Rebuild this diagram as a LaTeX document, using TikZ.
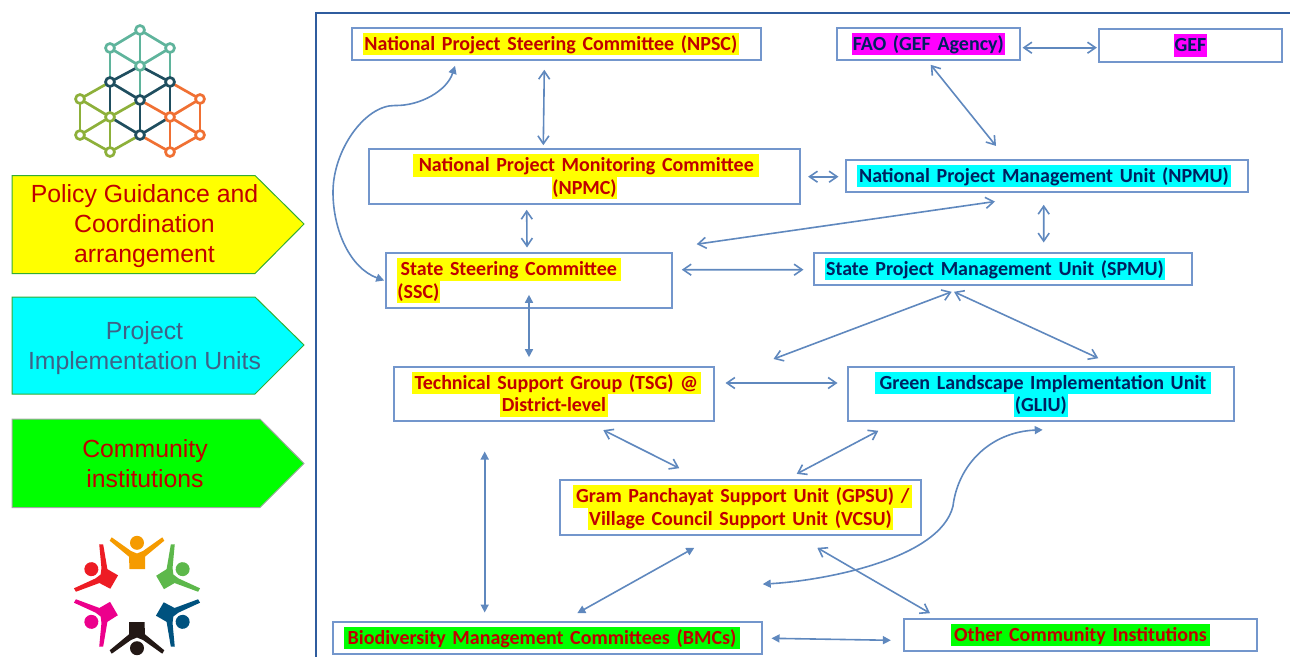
\documentclass[tikz,border=0pt]{standalone}
\usepackage{fontspec}
\setmainfont{Carlito}
\newfontfamily\arrowfont{Liberation Sans}
\usetikzlibrary{arrows.meta}
\newdimen\px \px=0.75pt
\definecolor{boxblue}{HTML}{7396CC}
\definecolor{linkblue}{HTML}{5F88BE}
\definecolor{framebl}{HTML}{2F5C9E}
\definecolor{hlyellow}{HTML}{FFFF00}
\definecolor{hlcyan}{HTML}{00FFFF}
\definecolor{hlmag}{HTML}{FF00FF}
\definecolor{hlgreen}{HTML}{00FF00}
\definecolor{txtred}{HTML}{C00000}
\definecolor{txtnavy}{HTML}{002060}
\definecolor{grey1}{HTML}{3E6287}
\definecolor{logoteal}{HTML}{5FB49C}
\definecolor{logodark}{HTML}{1F4E5F}
\definecolor{logolime}{HTML}{8DB03A}
\definecolor{logoorange}{HTML}{F07033}
% one highlighted line: left offset, width, highlight colour, text
\newcommand{\hlline}[4]{\hspace*{#1\px}{\fboxsep=0pt\colorbox{#3}{\makebox[#2\px][c]{\rule[-5\px]{0pt}{22.5\px}#4}}}}
\tikzset{
  unitbox/.style={draw=boxblue,line width=1.2pt,inner sep=0pt,align=left,text width=#1*0.75pt,
    font=\fontsize{15pt}{16.875pt}\selectfont\bfseries},
  rednode/.style={text=txtred},
  navynode/.style={text=txtnavy},
  open/.style={draw=linkblue,line width=1.2pt,{Straight Barb[length=6pt,width=8.25pt]}-{Straight Barb[length=6pt,width=8.25pt]}},
  solid2/.style={draw=linkblue,line width=1.2pt,{Triangle[length=6pt,width=6pt]}-{Triangle[length=6pt,width=6pt]}},
  sidelabel/.style={font=\fontsize{18.6pt}{22.5pt}\selectfont\arrowfont,align=center,inner sep=0pt},
  logoline/.style={line width=2pt,line cap=round},
  logodot/.style={draw,fill=white,line width=2pt},
}
\begin{document}
\begin{tikzpicture}[x=0.75pt,y=-0.75pt]
\useasboundingbox (0,0) rectangle (1290,657);
% outer frame
\draw[framebl,line width=2.2pt] (1290,13) -- (316,13) -- (316,657);

% side arrows
\draw[fill=hlyellow,draw=black!20!green!60!gray,line width=.75pt] (12,175.5) -- (255,175.5) -- (304,224) -- (255,273.5) -- (12,273.5) -- cycle;
\node[sidelabel,text=txtred] (lab1) at (144.5,226) {Policy Guidance and\\Coordination\\arrangement};
\draw[fill=hlcyan,draw=black!20!green!60!gray,line width=.75pt] (12,297) -- (255,297) -- (304,345) -- (255,394) -- (12,394) -- cycle;
\node[sidelabel,text=grey1] (lab2) at (144.5,348.5) {Project\\Implementation Units};
\draw[fill=hlgreen,draw=gray!70,line width=.75pt] (12,419) -- (260,419) -- (304,463.5) -- (260,507.5) -- (12,507.5) -- cycle;
\node[sidelabel,text=txtred] (lab3) at (145,464) {Community\\institutions};

% network logo
\foreach \xa/\ya/\xb/\yb in {140/30/110/48,140/30/170/48,110/48/140/66,170/48/140/66,140/30/140/100,110/48/110/82,170/48/170/82}
  \draw[logoline,draw=logoteal] (\xa,\ya) -- (\xb,\yb);
\foreach \xa/\ya/\xb/\yb in {80/99/110/82,80/99/80/135,80/99/110/117,110/117/140/100,80/135/110/117,110/117/110/152,80/135/110/152,110/152/140/135}
  \draw[logoline,draw=logolime] (\xa,\ya) -- (\xb,\yb);
\foreach \xa/\ya/\xb/\yb in {170/82/200/99,200/99/200/135,200/99/170/117,170/117/140/100,200/135/170/117,170/117/170/152,200/135/170/152,170/152/140/135}
  \draw[logoline,draw=logoorange] (\xa,\ya) -- (\xb,\yb);
\foreach \xa/\ya/\xb/\yb in {140/66/110/82,140/66/170/82,110/82/140/100,170/82/140/100,110/82/110/117,170/82/170/117,140/100/140/135,110/117/140/135,170/117/140/135}
  \draw[logoline,draw=logodark] (\xa,\ya) -- (\xb,\yb);
\foreach \xa/\ya in {140/30,110/48,170/48,140/66}
  \draw[logodot,draw=logoteal] (\xa,\ya) circle (4.5);
\foreach \xa/\ya in {110/82,170/82,140/100,140/135}
  \draw[logodot,draw=logodark] (\xa,\ya) circle (4.5);
\foreach \xa/\ya in {80/99,80/135,110/117,110/152}
  \draw[logodot,draw=logolime] (\xa,\ya) circle (4.5);
\foreach \xa/\ya in {200/99,200/135,170/117,170/152}
  \draw[logodot,draw=logoorange] (\xa,\ya) circle (4.5);

% people logo
\foreach \ang/\col in {0/F59B00,-60/5DB84B,-120/00527F,180/231815,120/EC008C,60/ED1C24}{
  \definecolor{figcol}{HTML}{\col}
  \begin{scope}[shift={(137,595.5)},rotate=\ang]
    \fill[figcol] (-7.5,-26.5) -- (8,-26.5) -- (8,-38.8) -- (27.3,-54.8) -- (25.3,-58.2) -- (6,-44.5) -- (0,-42) -- (-6,-44.5) -- (-25.3,-58.2) -- (-27.3,-54.8) -- (-8,-38.8) -- cycle;
    \fill[figcol] (0,-52.7) circle (7);
  \end{scope}
}

% boxes
\node[unitbox=409,rednode,minimum height=24pt] (npsc) at (556.5,44) {\hlline{10.7}{376.3}{hlyellow}{National Project Steering Committee (NPSC)}};
\node[unitbox=431,rednode,minimum height=41.25pt] (npmc) at (584.5,176.5) {\hlline{44.3}{346}{hlyellow}{National Project Monitoring Committee}\\\hlline{182.7}{65.6}{hlyellow}{(NPMC)}};
\node[unitbox=286,rednode,minimum height=41.25pt] (ssc) at (529,280.5) {\hlline{10.7}{224.3}{hlyellow}{State Steering Committee}\\\hlline{10.7}{43.3}{hlyellow}{(SSC)}};
\node[unitbox=320,rednode,minimum height=40.5pt] (tsg) at (554,394) {\hlline{17.7}{289.3}{hlyellow}{Technical Support Group (TSG) @}\\\hlline{106}{108}{hlyellow}{District-level}};
\node[unitbox=361,rednode,minimum height=41.25pt] (gpsu) at (740.5,507.5) {\hlline{13.3}{339}{hlyellow}{Gram Panchayat Support Unit (GPSU) /}\\\hlline{27.7}{305.6}{hlyellow}{Village Council Support Unit (VCSU)}};
\node[unitbox=429,rednode,minimum height=24pt] (bmc) at (547.5,638) {\hlline{11}{396}{hlgreen}{Biodiversity Management Committees (BMCs)}};
\node[unitbox=353,rednode,minimum height=24pt] (oci) at (1080.5,635) {\hlline{47}{259}{hlgreen}{Other Community Institutions}};
\node[unitbox=183,navynode,minimum height=24pt] (fao) at (928.5,44) {\hlline{14.7}{153.3}{hlmag}{FAO (GEF Agency)}};
\node[unitbox=183,navynode,minimum height=24.75pt] (gef) at (1190.5,45.5) {\hlline{75.3}{32.4}{hlmag}{GEF}};
\node[unitbox=402,navynode,minimum height=24pt] (npmu) at (1047,176) {\hlline{11.3}{373.4}{hlcyan}{National Project Management Unit (NPMU)}};
\node[unitbox=378,navynode,minimum height=24pt] (spmu) at (1003,269) {\hlline{11}{340}{hlcyan}{State Project Management Unit (SPMU)}};
\node[unitbox=386,navynode,minimum height=40.5pt] (gliu) at (1041,394) {\hlline{27}{336}{hlcyan}{Green Landscape Implementation Unit}\\\hlline{166}{53.7}{hlcyan}{(GLIU)}};

% connectors
\draw[open] ([shift={(-12.2,9)}]npsc.south) -- ([shift={(-41.2,-3)}]npmc.north);
\draw[open] ([shift={(-57.8,5)}]npmc.south) -- ([shift={(-2,-4.7)}]ssc.north);
\draw[solid2] ([shift={(-101.5,5)}]npsc.south) .. controls +(-8,25) and (420,106) .. (395,105.5) .. controls (365,105) and (333,150) .. (333,192) .. controls (333,230) and (350,268) .. ([shift={(-1,0)}]ssc.west);
\draw[solid2] ([shift={(0,-14)}]ssc.south) -- ([shift={(-25,-9)}]tsg.north);
\draw[open] ([shift={(9,-10.8)}]ssc.east) -- ([shift={(-9.7,0.7)}]spmu.west);
\draw[open] ([shift={(7.3,0.2)}]npmc.east) -- ([shift={(-6.7,0.7)}]npmu.west);
\draw[open] ([shift={(167.7,-8)}]ssc.north) -- ([shift={(-52,8.7)}]npmu.south);
\draw[open] ([shift={(-3.3,12)}]npmu.south) -- ([shift={(40.7,-9.7)}]spmu.north);
\draw[open] ([shift={(2.2,4)}]fao.south) -- ([shift={(-51,-13.3)}]npmu.north);
\draw[open] ([shift={(1.7,3.7)}]fao.east) -- ([shift={(-1.3,2.2)}]gef.west);
\draw[open] ([shift={(-51.3,6)}]spmu.south) -- ([shift={(58.7,-35)}]tsg.east);
\draw[open] ([shift={(-49,6)}]spmu.south) -- ([shift={(57.3,-8)}]gliu.north);
\draw[open] ([shift={(10.7,-11)}]tsg.east) -- ([shift={(-9.7,-11)}]gliu.west);
\draw[open] ([shift={(49.3,8.3)}]tsg.south) -- ([shift={(-61.2,-11)}]gpsu.north);
\draw[open] ([shift={(-162.7,9)}]gliu.south) -- ([shift={(56.2,-5.3)}]gpsu.north);
\draw[solid2] ([shift={(-69.3,29.7)}]tsg.south) -- ([shift={(-62.8,-8.7)}]bmc.north);
\draw[solid2] ([shift={(-46.2,12)}]gpsu.south) -- ([shift={(29.8,-8)}]bmc.north);
\draw[open] ([shift={(76.8,12)}]gpsu.south) -- ([shift={(-150.5,-5)}]oci.north);
\draw[solid2] ([shift={(8.7,0.3)}]bmc.east) -- ([shift={(-12.3,5.3)}]oci.west);
\draw[solid2] ([shift={(22.2,48.3)}]gpsu.south) .. controls (820,581) and (940,560) .. (953,506) .. controls (958,465) and (990,432) .. ([shift={(1.7,8)}]gliu.south);
\end{tikzpicture}
\end{document}
